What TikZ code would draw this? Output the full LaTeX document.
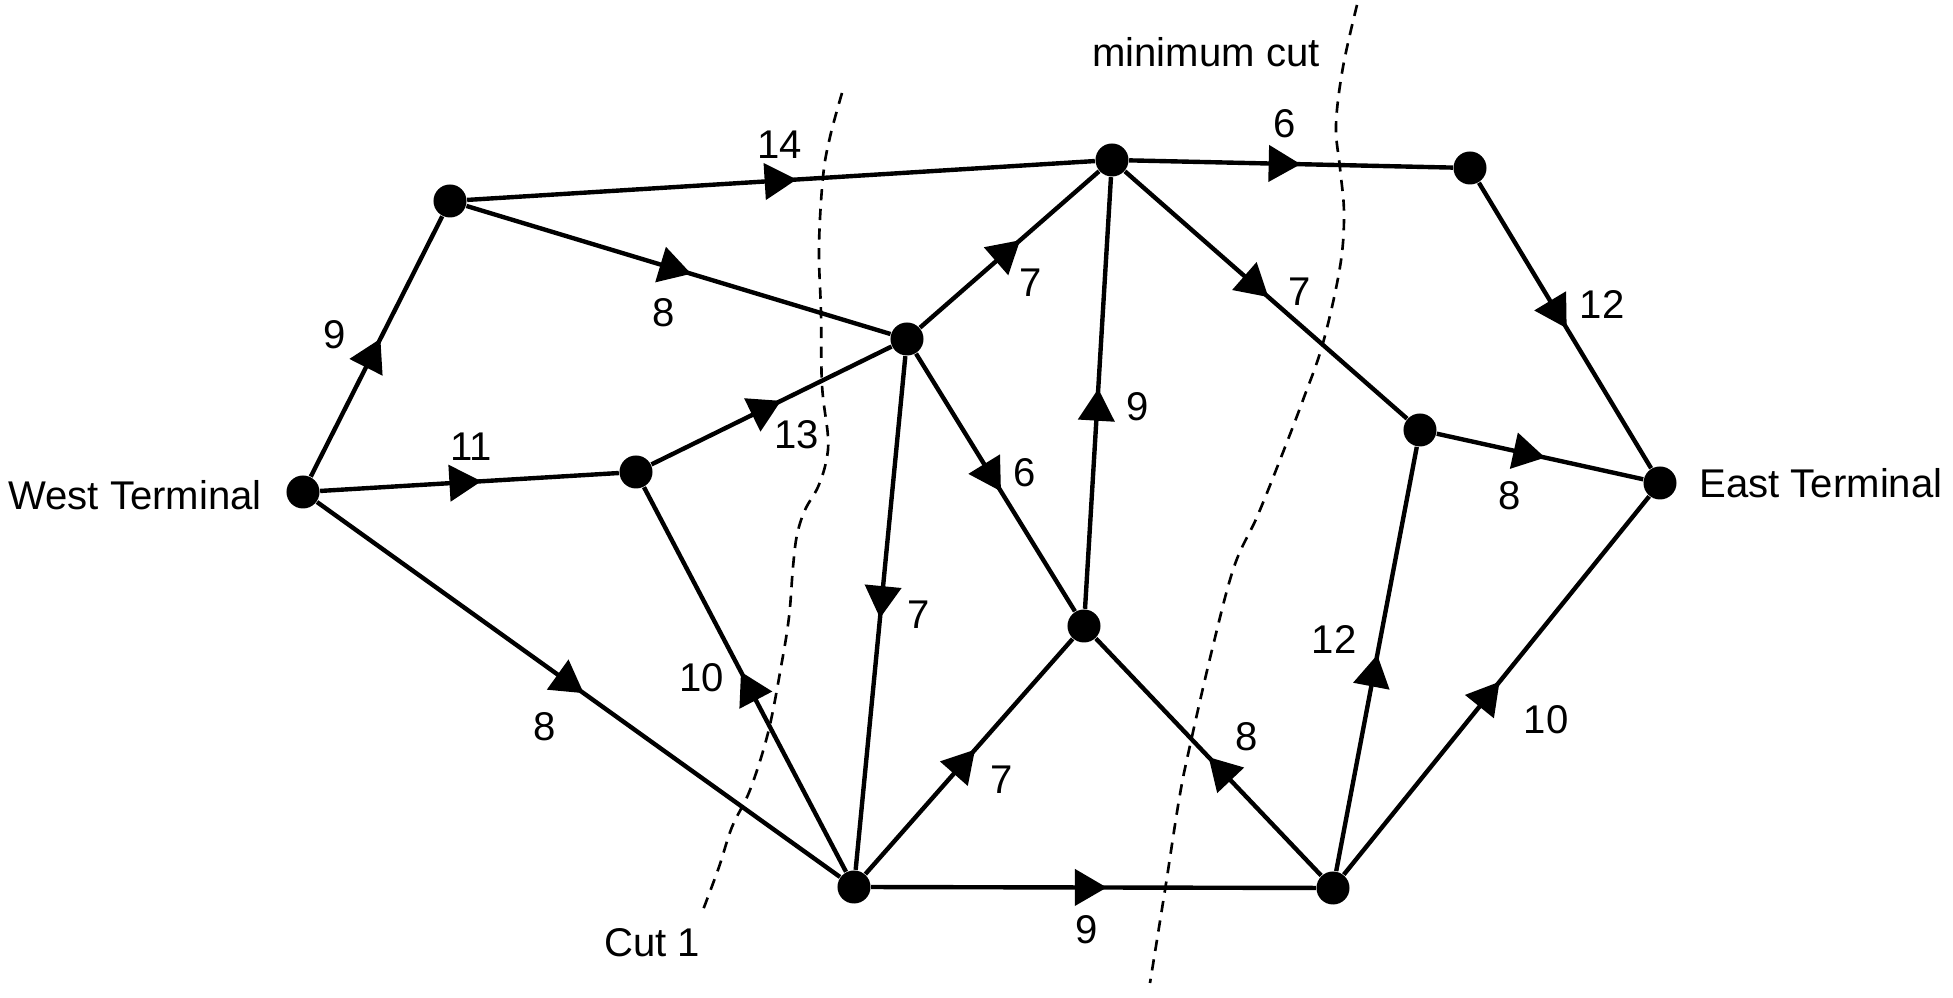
\documentclass[tikz,border=0pt]{standalone}
\usepackage{fontspec}
\setmainfont{Liberation Sans}
\usetikzlibrary{arrows.meta,decorations.markings}
\begin{document}
\begin{tikzpicture}[x=0.01cm,y=-0.01cm,
  dot/.style={circle,fill=black,inner sep=0pt,minimum size=0.33cm},
  flow/.style={line width=1.25pt, postaction={decorate},
    decoration={markings, mark=at position #1 with {\arrow{Triangle[length=3.2mm,width=3.6mm]}}}},
  lbl/.style={font=\fontsize{11.4}{13}\selectfont, inner sep=0pt},
  cut/.style={line width=0.75pt, dash pattern=on 3.2pt off 2.4pt}]
\useasboundingbox (0,0) rectangle (1953,998);
% nodes
\node[dot] (W) at (303,492) {};
\node[dot] (A) at (450,201) {};
\node[dot] (B) at (636,472) {};
\node[dot] (C) at (907,339) {};
\node[dot] (D) at (1112,160) {};
\node[dot] (E) at (1470,168) {};
\node[dot] (F) at (1420,430) {};
\node[dot] (T) at (1660,483) {};
\node[dot] (G) at (1084,626) {};
\node[dot] (H) at (854,887) {};
\node[dot] (I) at (1333,888) {};
% terminal labels
\node[lbl] (wl) at (135,495) {West Terminal};
\node[lbl] (el) at (1821,483) {East Terminal};
\node[lbl] (ml) at (1206,52) {minimum cut};
\node[lbl] (cl) at (652,943) {Cut 1};
% cuts
\draw[cut] plot[smooth,tension=0.6] coordinates {(842,93) (830,137) (823,177) (819,247) (821,313) (822,385) (828,437) (826,462) (818,487) (805,510) (797,535) (793,567) (789,617) (781,667) (768,733) (750,790) (732,827) (719,867) (703,910)};
\draw[cut] plot[smooth,tension=0.6] coordinates {(1357,5) (1343,67) (1336,125) (1340,168) (1344,214) (1340,267) (1323,343) (1303,400) (1280,460) (1257,517) (1234,567) (1212,650) (1189,750) (1179,800) (1165,890) (1150,983)};
% edges
\draw[flow=0.53] (W) -- (A);
\draw[flow=0.54] (W) -- (B);
\draw[flow=0.53] (A) -- (C);
\draw[flow=0.525] (A) -- (D);
\draw[flow=0.54] (B) -- (C);
\draw[flow=0.56] (C) -- (D);
\draw[flow=0.51] (D) -- (F);
\draw[flow=0.53] (D) -- (E);
\draw[flow=0.51] (E) -- (T);
\draw[flow=0.525] (F) -- (T);
\draw[flow=0.51] (C) -- (H);
\draw[flow=0.535] (C) -- (G);
\draw[flow=0.51] (G) -- (D);
\draw[flow=0.52] (H) -- (B);
\draw[flow=0.51] (W) -- (H);
\draw[flow=0.53] (H) -- (G);
\draw[flow=0.53] (H) -- (I);
\draw[flow=0.50] (I) -- (G);
\draw[flow=0.51] (I) -- (F);
\draw[flow=0.51] (I) -- (T);
% edge labels
\node[lbl] (l1) at (335,335) {9};
\node[lbl] (l2) at (471,447) {11};
\node[lbl] (l3) at (664,313) {8};
\node[lbl] (l4) at (780,145) {14};
\node[lbl] (l5) at (797,435) {13};
\node[lbl] (l6) at (1031,283) {7};
\node[lbl] (l7) at (1300,292) {7};
\node[lbl] (l8) at (1285,124) {6};
\node[lbl] (l9) at (1602,305) {12};
\node[lbl] (l10) at (1510,496) {8};
\node[lbl] (l11) at (919,615) {7};
\node[lbl] (l12) at (1025,473) {6};
\node[lbl] (l13) at (1138,407) {9};
\node[lbl] (l14) at (702,678) {10};
\node[lbl] (l15) at (545,727) {8};
\node[lbl] (l16) at (1002,780) {7};
\node[lbl] (l17) at (1087,930) {9};
\node[lbl] (l18) at (1247,737) {8};
\node[lbl] (l19) at (1334,640) {12};
\node[lbl] (l20) at (1546,720) {10};
\end{tikzpicture}
\end{document}
